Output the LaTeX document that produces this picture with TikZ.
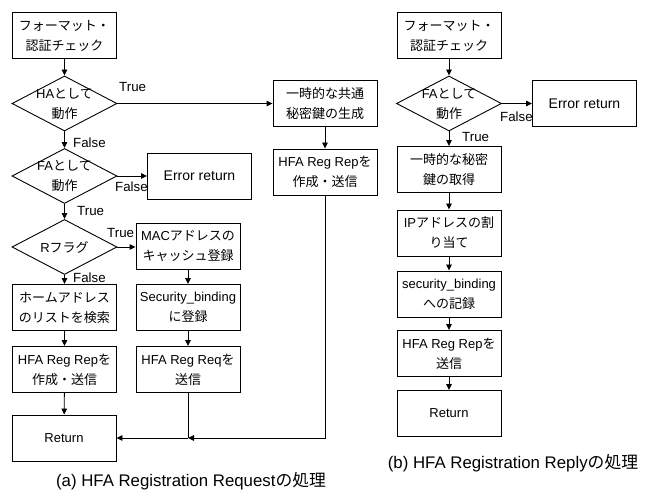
\documentclass[tikz,border=0pt]{standalone}
\usepackage{fontspec}
\setmainfont{Liberation Sans}
\newfontfamily\jpfont{Noto Sans CJK JP}
\newcommand\jtxt[1]{{\jpfont #1}}
\usetikzlibrary{shapes.geometric,arrows.meta}
\begin{document}
\begin{tikzpicture}[x=1pt,y=-1pt,
  box/.style={draw, line width=0.9pt, minimum width=104pt, minimum height=46pt, inner sep=0pt, align=center, font=\fontsize{13}{20}\selectfont},
  errbox/.style={box, font=\fontsize{14}{20}\selectfont},
  dia/.style={draw, diamond, line width=0.9pt, minimum width=105pt, minimum height=55pt, inner sep=0pt},
  dtxt/.style={inner sep=0pt, align=center, font=\fontsize{13}{20}\selectfont},
  lbl/.style={anchor=west, inner sep=0pt, font=\fontsize{13.3}{15}\selectfont},
  arr/.style={-{Triangle[length=6pt,width=5.5pt]}, line width=0.9pt},
  ln/.style={line width=0.9pt},
  captext/.style={inner sep=0pt, font=\fontsize{16.8}{20}\selectfont}]
\useasboundingbox (0,0) rectangle (651,494);
% ---------- (a) ----------
\node[box] (a1) at (64.5,35.5) {\jtxt{フォーマット・}\\\jtxt{認証チェック}};
\node[dia] (a2) at (64.5,103.5) {};
\node[dtxt] (a2t) at (a2) {HA\jtxt{として}\\\jtxt{動作}};
\node[dia] (a3) at (64.5,176) {};
\node[dtxt] (a3t) at (a3) {FA\jtxt{として}\\\jtxt{動作}};
\node[dia] (a4) at (64.5,247) {};
\node[dtxt] (a4t) at (a4) {R\jtxt{フラグ}};
\node[box] (a5) at (64.5,307.5) {\jtxt{ホームアドレス}\\\jtxt{のリストを検索}};
\node[box] (a6) at (64.5,369.5) {HFA Reg Rep\jtxt{を}\\\jtxt{作成・送信}};
\node[box] (a7) at (64,438) {Return};
\node[box] (a8) at (188,246.5) {MAC\jtxt{アドレスの}\\\jtxt{キャッシュ登録}};
\node[box] (a9) at (188,307.5) {Security\_binding\\\jtxt{に登録}};
\node[box] (a10) at (188,369.5) {HFA Reg Req\jtxt{を}\\\jtxt{送信}};
\node[errbox] (a11) at (199.5,176) {Error return};
\node[box] (a12) at (325,103.5) {\jtxt{一時的な共通}\\\jtxt{秘密鍵の生成}};
\node[box] (a13) at (325,172) {HFA Reg Rep\jtxt{を}\\\jtxt{作成・送信}};
\coordinate (j) at (a10 |- a7);

\draw[arr] (a1) -- (a2);
\draw[arr] (a2) -- (a3);
\draw[arr] (a3) -- (a4);
\draw[arr] (a4) -- (a5);
\draw[arr] (a5) -- (a6);
\draw[arr] (a6) -- (a7);
\draw[arr] (a2.east) -- (a12.west);
\draw[arr] (a12) -- (a13);
\draw[arr] (a3.east) -- (a11.west);
\draw[arr] (a4.east) -- (a8.west |- a4.east);
\draw[arr] (a8) -- (a9);
\draw[arr] (a9) -- (a10);
\draw[ln] (a10.south) -- (j);
\draw[arr] (j) -- (a7.east);
\draw[arr] (a13.south) |- (j);

\node[lbl] (l1) at (119,87) {True};
\node[lbl] (l2) at (73,143) {False};
\node[lbl] (l3) at (115,187) {False};
\node[lbl] (l4) at (77,211) {True};
\node[lbl] (l5) at (107,233) {True};
\node[lbl] (l6) at (73,278) {False};
\node[captext] (capa) at (191,481) {(a) HFA Registration Request\jtxt{の処理}};

% ---------- (b) ----------
\node[box] (b1) at (449,35.5) {\jtxt{フォーマット・}\\\jtxt{認証チェック}};
\node[dia] (b2) at (449,103.5) {};
\node[dtxt] (b2t) at (b2) {FA\jtxt{として}\\\jtxt{動作}};
\node[box] (b3) at (449,169.5) {\jtxt{一時的な秘密}\\\jtxt{鍵の取得}};
\node[box] (b4) at (449,233) {IP\jtxt{アドレスの割}\\\jtxt{り当て}};
\node[box] (b5) at (449,294) {security\_binding\\\jtxt{への記録}};
\node[box] (b6) at (449,353.5) {HFA Reg Rep\jtxt{を}\\\jtxt{送信}};
\node[box] (b7) at (449,413.5) {Return};
\node[errbox] (b8) at (584.5,103.5) {Error return};

\draw[arr] (b1) -- (b2);
\draw[arr] (b2) -- (b3);
\draw[arr] (b2.east) -- (b8.west);
\draw[arr] (b3) -- (b4);
\draw[arr] (b4) -- (b5);
\draw[arr] (b5) -- (b6);
\draw[arr] (b6) -- (b7);

\node[lbl] (l7) at (500,117) {False};
\node[lbl] (l8) at (462,137) {True};
\node[captext] (capb) at (513,463) {(b) HFA Registration Reply\jtxt{の処理}};
\end{tikzpicture}
\end{document}
